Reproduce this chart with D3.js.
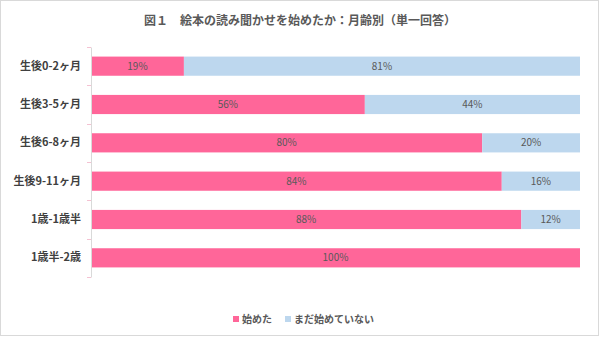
<!DOCTYPE html>
<html>
<head>
<meta charset="utf-8">
<script src="https://cdn.jsdelivr.net/npm/d3@7"></script>
<style>
  body { margin: 0; background: #fff; }
  svg { display: block; font-family: "Noto Sans CJK JP", "Noto Sans", sans-serif; }
</style>
</head>
<body>
<svg id="chart" width="600" height="337"></svg>
<script>
// Datos del gráfico
var categorias = ["生後0-2ヶ月", "生後3-5ヶ月", "生後6-8ヶ月", "生後9-11ヶ月", "1歳-1歳半", "1歳半-2歳"];
var hajimeta = [19, 56, 80, 84, 88, 100];
var madaHajimeteinai = [81, 44, 20, 16, 12, 0];
var series = ["始めた", "まだ始めていない"];
var colores = ["#ff6699", "#bdd7ee"];

var svg = d3.select("#chart");

// Marco exterior
svg.append("rect")
  .attr("x", 0.5).attr("y", 0.5)
  .attr("width", 598).attr("height", 335)
  .attr("fill", "none").attr("stroke", "#d9d9d9");

// Título
svg.append("text")
  .attr("x", 300).attr("y", 25)
  .attr("text-anchor", "middle")
  .attr("font-size", 12).attr("font-weight", "bold")
  .attr("fill", "#595959")
  .text("図１　絵本の読み聞かせを始めたか：月齢別（単一回答）");

// Escalas
var x = d3.scaleLinear().domain([0, 100]).range([91, 580]);
var y = d3.scaleBand().domain(categorias).range([47, 277]).paddingInner(0.5).paddingOuter(0.25);

// Apilado de datos
var filas = categorias.map(function(c, i) {
  return { cat: c, a: hajimeta[i], b: madaHajimeteinai[i] };
});

var segmentos = [];
filas.forEach(function(d) {
  segmentos.push({ cat: d.cat, x0: 0, x1: d.a, v: d.a, s: 0 });
  segmentos.push({ cat: d.cat, x0: d.a, x1: d.a + d.b, v: d.b, s: 1 });
});

svg.append("g")
  .selectAll("rect")
  .data(segmentos.filter(function(d) { return d.v > 0; }))
  .enter()
  .append("rect")
  .attr("x", function(d) { return x(d.x0); })
  .attr("y", function(d) { return y(d.cat); })
  .attr("width", function(d) { return x(d.x1) - x(d.x0); })
  .attr("height", y.bandwidth())
  .attr("fill", function(d) { return colores[d.s]; });

// Etiquetas de valores
svg.append("g")
  .selectAll("text")
  .data(segmentos.filter(function(d) { return d.v > 0; }))
  .enter()
  .append("text")
  .attr("x", function(d) { return (x(d.x0) + x(d.x1)) / 2; })
  .attr("y", function(d) { return y(d.cat) + y.bandwidth() / 2; })
  .attr("dy", "0.35em")
  .attr("text-anchor", "middle")
  .attr("font-size", 10)
  .attr("fill", "#595959")
  .text(function(d) { return d.v + "%"; });

// Eje izquierdo
var eje = svg.append("g")
  .attr("transform", "translate(91,0)")
  .call(d3.axisLeft(y).tickSize(0).tickPadding(10));

eje.select(".domain").attr("stroke", "#d9d9d9");
eje.selectAll("text")
  .attr("font-size", 11)
  .attr("font-weight", "bold")
  .attr("fill", "#404040")
  .attr("font-family", "Noto Sans CJK JP");

// Marcas entre categorías
var limites = [47].concat(categorias.map(function(c) { return y(c) + y.step() * 0.75 ; }));
svg.append("g")
  .selectAll("line")
  .data(limites)
  .enter()
  .append("line")
  .attr("x1", 87).attr("x2", 91)
  .attr("y1", function(d) { return Math.round(d) + 0.5; })
  .attr("y2", function(d) { return Math.round(d) + 0.5; })
  .attr("stroke", "#f4c2d2");

// Leyenda
var leyenda = svg.append("g").attr("transform", "translate(233,319)");
var posiciones = [0, 52];
series.forEach(function(s, i) {
  var g = leyenda.append("g").attr("transform", "translate(" + posiciones[i] + ",0)");
  g.append("rect").attr("x", 0).attr("y", -3).attr("width", 6).attr("height", 6).attr("fill", colores[i]);
  g.append("text")
    .attr("x", 9).attr("y", 0).attr("dy", "0.35em")
    .attr("font-size", 10).attr("font-weight", "bold")
    .attr("fill", "#595959")
    .text(s);
});
</script>
</body>
</html>
